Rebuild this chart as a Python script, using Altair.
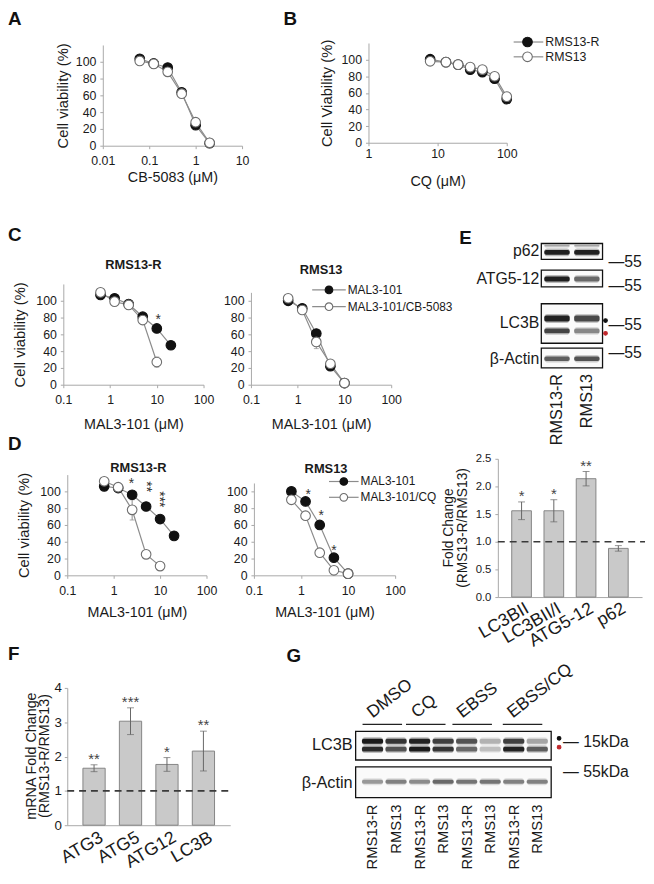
import altair as alt
import pandas as pd

FONT = "Liberation Sans"
OX, OY = 8, 8
W, H = 646, 868
INK = "#1a1a1a"
LINE = "#8c8c8c"
AXC = "#a8a8a8"
BAR = "#c9c9c9"
BAR_EDGE = "#858585"
MU = "\u03bcM"

def px(v):
    return v - OX

def py(v):
    return v - OY

# ---------------- data ----------------
# A: CB-5083
a_dose = [0.0625, 0.125, 0.25, 0.5, 1, 2]
a_rms13r = [103.5, 98, 93, 63.5, 24.5, 3]
a_rms13 = [101, 97.5, 88, 62, 28, 3.5]

# B: CQ
b_dose = [7.8, 13.2, 19.8, 29.6, 44.4, 66.7, 100]
b_rms13r = [100.5, 97, 94, 88, 85, 77, 52.5]
b_rms13 = [98, 97, 94, 91, 88, 80, 55.5]

# C / D doses
mal_dose = [0.625, 1.25, 2.5, 5, 10, 20]
combo_dose = [0.625, 1.25, 2.5, 5, 10]

# C: MAL3-101 +/- CB-5083
c_r_mal = [107, 103, 96, 81, 67, 47]
c_r_mal_err = [3, 2, 3, 3, 3, 3]
c_r_cb = [110, 99, 95, 77, 27]
c_r_cb_err = [3, 2, 5, 3, 6]
c_r_star_dose = [10.7]
c_r_star_y = [82]
c_r_star = ["*"]
c_s_mal = [100, 91, 61, 22, 2]
c_s_mal_err = [2, 3, 4, 3, 1]
c_s_cb = [103, 89, 51, 25, 2]
c_s_cb_err = [2, 3, 8, 5, 1]

# D: MAL3-101 +/- CQ
d_r_mal = [106, 104, 96, 82, 67, 47]
d_r_mal_err = [2, 2, 3, 3, 3, 3]
d_r_cq = [112, 105, 78, 25, 11]
d_r_cq_err = [2, 2, 12, 3, 2]
d_r_star_dose = [2.41, 5.0, 9.5]
d_r_star_y = [114, 102, 87]
d_r_star = ["*", "**", "***"]
d_s_mal = [100, 88, 60, 21, 2]
d_s_mal_err = [2, 3, 5, 4, 1]
d_s_cq = [90, 71, 27, 6, 2]
d_s_cq_err = [3, 4, 3, 2, 1]
d_s_star_dose = [1.42, 2.67, 5.0]
d_s_star_y = [100, 75, 34]
d_s_star = ["*", "*", "*"]

# E: western blot (band intensities 0-1)
e_lanes = ["RMS13-R", "RMS13"]
e_p62_top = [0.3, 0.3]
e_p62 = [0.92, 0.9]
e_atg512 = [0.92, 0.55]
e_lc3_i = [0.9, 0.7]
e_lc3_ii = [0.72, 0.42]
e_actin = [0.6, 0.65]

# E: quantification
e_cat = ["LC3BII", "LC3BII/I", "ATG5-12", "p62"]
e_val = [1.56, 1.56, 2.14, 0.88]
e_err = [0.16, 0.2, 0.13, 0.05]
e_sig = ["*", "*", "**", ""]
e_ref = [1.0]

# F: mRNA fold change
f_cat = ["ATG3", "ATG5", "ATG12", "LC3B"]
f_val = [1.66, 3.03, 1.77, 2.16]
f_err = [0.1, 0.39, 0.2, 0.58]
f_sig = ["**", "***", "*", "**"]
f_ref = [1.0]

# G: western blot
g_groups = ["DMSO", "CQ", "EBSS", "EBSS/CQ"]
g_lane_id = ["L1", "L2", "L3", "L4", "L5", "L6", "L7", "L8"]
g_lane_label = ["RMS13-R", "RMS13", "RMS13-R", "RMS13", "RMS13-R", "RMS13", "RMS13-R", "RMS13"]
g_lc3_i = [0.95, 0.8, 0.9, 0.75, 0.65, 0.25, 0.75, 0.3]
g_lc3_ii = [0.85, 0.65, 0.95, 0.8, 0.55, 0.2, 0.9, 0.6]
g_actin = [0.35, 0.45, 0.4, 0.55, 0.5, 0.5, 0.45, 0.45]

# ---------------- helpers ----------------
ONE = pd.DataFrame({"k": [0]})
layers = []


def txt(s, x, y, size=13, weight="normal", align="left", baseline="middle", angle=0, color=INK):
    kw = dict(text=s, font=FONT, fontSize=size, fontWeight=weight, align=align,
              baseline=baseline, color=color)
    if angle:
        kw["angle"] = angle
    return alt.Chart(ONE).mark_text(**kw).encode(x=alt.value(px(x)), y=alt.value(py(y)))


def hline(x0, x1, y, color=LINE, width=1.2):
    return alt.Chart(ONE).mark_rule(color=color, strokeWidth=width).encode(
        x=alt.value(px(x0)), x2=alt.value(px(x1)), y=alt.value(py(y)))


def dot(x, y, fill, stroke, size=95):
    return alt.Chart(ONE).mark_point(shape="circle", filled=True, fill=fill, stroke=stroke,
                                      strokeWidth=1.1, size=size, opacity=1).encode(
        x=alt.value(px(x)), y=alt.value(py(y)))


def box(x0, x1, y0, y1):
    return alt.Chart(ONE).mark_rect(fill="#fafafa", stroke="#111", strokeWidth=1.3).encode(
        x=alt.value(px(x0)), x2=alt.value(px(x1)), y=alt.value(py(y0)), y2=alt.value(py(y1)))


def logx(lo, hi, r0, r1):
    return alt.Scale(type="log", domain=[lo, hi], range=[px(r0), px(r1)], nice=False)


def liny(lo, hi, r0, r1):
    return alt.Scale(type="linear", domain=[lo, hi], range=[py(r0), py(r1)], nice=False, zero=False)


def xaxis_log(y_ref, values, title, pad, title_dy):
    return alt.Axis(orient="bottom", offset=py(y_ref) - H, values=values, format="~g",
                    labelFlush=False, labelOverlap=False, labelBaseline="middle",
                    labelPadding=pad, tickSize=3, labelFontSize=12.5,
                    title=title, titleY=title_dy, titleBaseline="middle", titleFontSize=14.5)


def yaxis_lin(x_ref, values, title="", title_dx=-43, fmt="d", size=12.5, pad=4):
    kw = dict(orient="left", offset=-px(x_ref), values=values, format=fmt, labelFontSize=size,
              labelPadding=pad, tickSize=3, labelOverlap=False, labelBaseline="middle",
              title=title)
    if title:
        kw.update(titleX=title_dx, titleBaseline="middle", titleFontSize=15)
    return alt.Axis(**kw)


def axes_layer(xs, ys, xd, yd, xaxis, yaxis):
    df = pd.DataFrame({"d": [xd], "v": [yd]})
    return alt.Chart(df).mark_point(opacity=0).encode(
        x=alt.X("d:Q", scale=xs, axis=xaxis), y=alt.Y("v:Q", scale=ys, axis=yaxis))


def curve(dose, vals, errs, filled, xs, ys):
    df = pd.DataFrame({"d": dose, "v": vals, "e": errs if errs else [0] * len(vals)})
    base = alt.Chart(df).transform_calculate(lo="datum.v - datum.e", hi="datum.v + datum.e")
    X = alt.X("d:Q", scale=xs, axis=None)
    back = [base.mark_line(color=LINE, strokeWidth=1.2).encode(
        x=X, y=alt.Y("v:Q", scale=ys, axis=None))]
    if errs:
        back.append(base.mark_rule(color=LINE, strokeWidth=1).encode(
            x=X, y=alt.Y("lo:Q", scale=ys, axis=None), y2="hi:Q"))
        for f in ("lo", "hi"):
            back.append(base.mark_tick(color=LINE, orient="horizontal", size=5, thickness=1).encode(
                x=X, y=alt.Y(f + ":Q", scale=ys, axis=None)))
    pts = base.mark_point(shape="circle", filled=True, size=95, opacity=1,
                          fill="#111" if filled else "white",
                          stroke="#111" if filled else "#6e6e6e", strokeWidth=1.1).encode(
        x=X, y=alt.Y("v:Q", scale=ys, axis=None))
    return back, pts


def stars(dose, yv, labels, xs, ys, rotated=False):
    df = pd.DataFrame({"d": dose, "v": yv, "s": labels})
    base = alt.Chart(df)
    X = alt.X("d:Q", scale=xs, axis=None)
    Y = alt.Y("v:Q", scale=ys, axis=None)
    flat = base.transform_filter("length(datum.s) == 1").mark_text(
        font=FONT, fontSize=14, color="#333", baseline="alphabetic", dy=8).encode(x=X, y=Y, text="s:N")
    out = [flat]
    if rotated:
        rot = base.transform_filter("length(datum.s) > 1").mark_text(
            font=FONT, fontSize=14, color="#333", baseline="middle", align="center",
            angle=90, dx=-3).encode(x=X, y=Y, text="s:N")
        out.append(rot)
    return out


def curve_panel(xs, ys, series, xaxis, yaxis, xd, yd):
    out = [axes_layer(xs, ys, xd, yd, xaxis, yaxis)]
    backs, fronts = [], []
    for dose, vals, errs, filled in series:
        b, p = curve(dose, vals, errs, filled, xs, ys)
        backs += b
        fronts.append(p)
    return out + backs + fronts


# ---------------- panel letters ----------------
for letter, x, y in [("A", 8, 20), ("B", 287, 20), ("C", 8, 238), ("D", 8, 450),
                     ("E", 465, 242), ("F", 8, 663), ("G", 290, 665)]:
    layers.append(txt(letter, x, y, size=19, weight="bold", baseline="alphabetic", color="#111"))

# ---------------- A ----------------
xsA = logx(0.01, 10, 104, 245)
ysA = liny(0, 120, 142, 40)
layers += curve_panel(
    xsA, ysA,
    [(a_dose, a_rms13r, None, True), (a_dose, a_rms13, None, False)],
    xaxis_log(142, [0.01, 0.1, 1, 10], "CB-5083 (" + MU + ")", 12, 32),
    yaxis_lin(104, [0, 20, 40, 60, 80, 100], "Cell viability (%)", -41),
    0.01, 0)

# ---------------- B ----------------
xsB = logx(1, 100, 373, 513)
ysB = liny(0, 120, 139, 38)
layers += curve_panel(
    xsB, ysB,
    [(b_dose, b_rms13r, None, True), (b_dose, b_rms13, None, False)],
    xaxis_log(139, [1, 10, 100], "CQ (" + MU + ")", 8, 39),
    yaxis_lin(373, [0, 20, 40, 60, 80, 100], "Cell Viability (%)", -42),
    1, 0)
layers += [hline(520, 550, 37), hline(520, 550, 52),
           dot(534, 37, "#111", "#111"), dot(534, 52, "white", "#6e6e6e"),
           txt("RMS13-R", 552, 37, size=12.5), txt("RMS13", 552, 52, size=12.5)]

# ---------------- C ----------------
xsC1 = logx(0.1, 100, 64, 206)
ysC1 = liny(0, 120, 384, 282)
layers += curve_panel(
    xsC1, ysC1,
    [(mal_dose, c_r_mal, c_r_mal_err, True), (combo_dose, c_r_cb, c_r_cb_err, False)],
    xaxis_log(384, [0.1, 1, 10, 100], "MAL3-101 (" + MU + ")", 12, 40),
    yaxis_lin(64, [0, 20, 40, 60, 80, 100], "Cell viability (%)", -44),
    0.1, 0)
layers += stars(c_r_star_dose, c_r_star_y, c_r_star, xsC1, ysC1)
layers.append(txt("RMS13-R", 135, 263, size=13, weight="bold", align="center"))

xsC2 = logx(0.1, 100, 254, 396)
ysC2 = liny(0, 110, 384, 290.5)
layers += curve_panel(
    xsC2, ysC2,
    [(combo_dose, c_s_mal, c_s_mal_err, True), (combo_dose, c_s_cb, c_s_cb_err, False)],
    xaxis_log(384, [0.1, 1, 10, 100], "MAL3-101 (" + MU + ")", 12, 40),
    yaxis_lin(254, [0, 20, 40, 60, 80, 100]),
    0.1, 0)
layers.append(txt("RMS13", 325, 268, size=13, weight="bold", align="center"))
layers += [hline(316, 350, 288), hline(316, 350, 305),
           dot(333, 288, "#111", "#111", 60), dot(333, 305, "white", "#6e6e6e", 60),
           txt("MAL3-101", 352, 288, size=12), txt("MAL3-101/CB-5083", 352, 305, size=12)]

# ---------------- D ----------------
xsD1 = logx(0.1, 100, 68, 209)
ysD1 = liny(0, 120, 577, 475)
layers += curve_panel(
    xsD1, ysD1,
    [(mal_dose, d_r_mal, d_r_mal_err, True), (combo_dose, d_r_cq, d_r_cq_err, False)],
    xaxis_log(577, [0.1, 1, 10, 100], "MAL3-101 (" + MU + ")", 12, 38),
    yaxis_lin(68, [0, 20, 40, 60, 80, 100], "Cell viability (%)", -44),
    0.1, 0)
layers += stars(d_r_star_dose, d_r_star_y, d_r_star, xsD1, ysD1, rotated=True)
layers.append(txt("RMS13-R", 140, 468, size=13, weight="bold", align="center"))

xsD2 = logx(0.1, 100, 257, 400)
ysD2 = liny(0, 110, 577, 483.5)
layers += curve_panel(
    xsD2, ysD2,
    [(combo_dose, d_s_mal, d_s_mal_err, True), (combo_dose, d_s_cq, d_s_cq_err, False)],
    xaxis_log(577, [0.1, 1, 10, 100], "MAL3-101 (" + MU + ")", 12, 38),
    yaxis_lin(257, [0, 20, 40, 60, 80, 100]),
    0.1, 0)
layers += stars(d_s_star_dose, d_s_star_y, d_s_star, xsD2, ysD2)
layers.append(txt("RMS13", 330, 469, size=13, weight="bold", align="center"))
layers += [hline(333, 363, 482), hline(333, 363, 498),
           dot(348, 482, "#111", "#111", 60), dot(348, 498, "white", "#6e6e6e", 60),
           txt("MAL3-101", 365, 482, size=12), txt("MAL3-101/CQ", 365, 498, size=12)]

# ---------------- E blot ----------------
xsEb = alt.Scale(type="band", domain=e_lanes, range=[px(548), px(610)],
                 paddingInner=0.15, paddingOuter=0.1)


def blot_bands(lanes, vals, xs, y0, y1):
    df = pd.DataFrame({"lane": lanes, "v": vals})
    base = alt.Chart(df).transform_calculate(h="datum.v * 0.3")
    X = alt.X("lane:N", scale=xs, axis=None, sort=None)
    halo = base.mark_rect(color="#111", cornerRadius=3).encode(
        x=X, y=alt.value(py(y0 - 1.5)), y2=alt.value(py(y1 + 1.5)),
        opacity=alt.Opacity("h:Q", scale=None, legend=None))
    core = base.mark_rect(color="#111", cornerRadius=2).encode(
        x=X, y=alt.value(py(y0)), y2=alt.value(py(y1)),
        opacity=alt.Opacity("v:Q", scale=None, legend=None))
    return [halo, core]


layers += [box(548, 610, 241, 257), box(548, 610, 268, 285),
           box(548, 610, 302, 342), box(548, 610, 347, 367)]
layers += blot_bands(e_lanes, e_p62_top, xsEb, 242.5, 244)
layers += blot_bands(e_lanes, e_p62, xsEb, 247.5, 252.5)
layers += blot_bands(e_lanes, e_atg512, xsEb, 274.5, 279.5)
layers += blot_bands(e_lanes, e_lc3_i, xsEb, 314, 320)
layers += blot_bands(e_lanes, e_lc3_ii, xsEb, 327, 332)
layers += blot_bands(e_lanes, e_actin, xsEb, 355.5, 360)
for lab, y in [("p62", 249), ("ATG5-12", 277), ("LC3B", 322), ("\u03b2-Actin", 358)]:
    layers.append(txt(lab, 546, y, size=16, align="right"))
for y in [260, 284, 324, 352]:
    layers.append(txt("\u201455", 616, y, size=16))
layers += [dot(613, 319, "#111", "#111", 14), dot(613, 332, "#c0282d", "#c0282d", 14)]
layers.append(alt.Chart(pd.DataFrame({"lane": e_lanes})).mark_text(
    font=FONT, fontSize=16.5, color=INK, angle=270, align="right", baseline="middle").encode(
    x=alt.X("lane:N", scale=xsEb, axis=None, sort=None), y=alt.value(py(373)), text="lane:N"))

# ---------------- E bars ----------------


def bar_panel(cats, vals, errs, sigs, ref, xs, ys, xaxis, yaxis, dash_x0, dash_x1):
    df = pd.DataFrame({"c": cats, "v": vals, "e": errs, "s": sigs})
    base = alt.Chart(df).transform_calculate(lo="datum.v - datum.e", hi="datum.v + datum.e")
    X = alt.X("c:N", scale=xs, sort=None, axis=None)
    out = [base.mark_bar(color=BAR, stroke=BAR_EDGE, strokeWidth=1).encode(
        x=alt.X("c:N", scale=xs, sort=None, axis=xaxis),
        y=alt.Y("v:Q", scale=ys, axis=yaxis), y2=alt.datum(0))]
    out.append(base.mark_rule(color="#666", strokeWidth=1).encode(
        x=X, y=alt.Y("lo:Q", scale=ys, axis=None), y2="hi:Q"))
    for f in ("lo", "hi"):
        out.append(base.mark_tick(color="#666", orient="horizontal", size=7, thickness=1).encode(
            x=X, y=alt.Y(f + ":Q", scale=ys, axis=None)))
    out.append(base.mark_text(font=FONT, fontSize=15, color="#444", baseline="alphabetic", dy=-1).encode(
        x=X, y=alt.Y("hi:Q", scale=ys, axis=None), text="s:N"))
    out.append(alt.Chart(pd.DataFrame({"r": ref})).mark_rule(
        color="#3a3a3a", strokeWidth=1.6, strokeDash=[7, 5]).encode(
        x=alt.value(px(dash_x0)), x2=alt.value(px(dash_x1)),
        y=alt.Y("r:Q", scale=ys, axis=None)))
    return out


xsE = alt.Scale(type="band", domain=e_cat, range=[px(504), px(650)],
                paddingInner=0.39, paddingOuter=0.43)
ysE = liny(0, 2.5, 599, 459)
xaxE = alt.Axis(orient="bottom", offset=py(599) - H, labelAngle=-30, labelAlign="right",
                labelBaseline="middle", labelPadding=10, labelOffset=6, ticks=False,
                labelFontSize=18, labelOverlap=False, title="")
yaxE = alt.Axis(orient="left", offset=-px(504), values=[0, 0.5, 1, 1.5, 2, 2.5], format=".1f",
                labelFontSize=11.5, labelPadding=4, tickSize=3, labelBaseline="middle", title="")
layers += bar_panel(e_cat, e_val, e_err, e_sig, e_ref, xsE, ysE, xaxE, yaxE, 504, 653)
layers += [txt("Fold Change", 455, 529, size=14, align="center", angle=270),
           txt("(RMS13-R/RMS13)", 469, 529, size=14, align="center", angle=270)]

# ---------------- F bars ----------------
xsF = alt.Scale(type="band", domain=f_cat, range=[px(68), px(233)],
                paddingInner=0.39, paddingOuter=0.43)
ysF = liny(0, 4, 830, 691)
xaxF = alt.Axis(orient="bottom", offset=py(830) - H, labelAngle=-30, labelAlign="right",
                labelBaseline="middle", labelPadding=11, labelOffset=8, ticks=False,
                labelFontSize=18, labelOverlap=False, title="")
yaxF = alt.Axis(orient="left", offset=-px(68), values=[0, 1, 2, 3, 4], format="d",
                labelFontSize=13.5, labelPadding=3, tickSize=3, labelBaseline="middle", title="")
layers += bar_panel(f_cat, f_val, f_err, f_sig, f_ref, xsF, ysF, xaxF, yaxF, 68, 235)
layers += [txt("mRNA Fold Change", 32, 760, size=14.5, align="center", angle=270),
           txt("(RMS13-R/RMS13)", 45.5, 760, size=14.5, align="center", angle=270)]

# ---------------- G blot ----------------
xsG = alt.Scale(type="band", domain=g_lane_id, range=[px(364), px(557)],
                paddingInner=0.1, paddingOuter=0.1)
layers += [box(360, 558, 735, 764), box(360, 558, 771, 802)]
layers += blot_bands(g_lane_id, g_lc3_i, xsG, 742.5, 747.5)
layers += blot_bands(g_lane_id, g_lc3_ii, xsG, 750.5, 755.5)
layers += blot_bands(g_lane_id, g_actin, xsG, 784, 788)
layers += [txt("LC3B", 357, 749, size=16.5, align="right"),
           txt("\u03b2-Actin", 357, 787, size=16.5, align="right"),
           txt("\u2014 15kDa", 570, 746, size=16), txt("\u2014 55kDa", 570, 776, size=16),
           dot(566, 742, "#111", "#111", 14), dot(566, 751, "#c0282d", "#c0282d", 14)]
for name, x0, x1, ax in zip(g_groups, [367, 411, 458, 509], [407, 451, 498, 549],
                            [377, 422, 468, 519]):
    layers.append(hline(x0, x1, 728, color="#222", width=1.2))
    layers.append(txt(name, ax, 722, size=17.5, baseline="alphabetic", angle=322))
layers.append(alt.Chart(pd.DataFrame({"lane": g_lane_id, "lab": g_lane_label})).mark_text(
    font=FONT, fontSize=15, color=INK, angle=270, align="right", baseline="middle").encode(
    x=alt.X("lane:N", scale=xsG, axis=None, sort=None), y=alt.value(py(809)), text="lab:N"))

# ---------------- assemble ----------------
chart = alt.layer(*layers).resolve_scale(x="independent", y="independent").resolve_axis(
    x="independent", y="independent").properties(
    width=W, height=H, padding=0, background="white",
    autosize=alt.AutoSizeParams(type="none")).configure_view(stroke=None).configure_axis(
    grid=False, domainColor=AXC, tickColor=AXC, labelFont=FONT, titleFont=FONT,
    labelColor=INK, titleColor=INK, titleFontWeight="normal")

chart.save("out.html", embed_options={"renderer": "svg", "actions": False})
